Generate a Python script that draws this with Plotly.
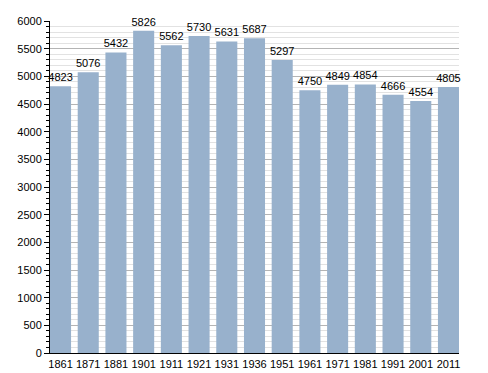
import plotly.graph_objects as go

years = ["1861", "1871", "1881", "1901", "1911", "1921", "1931", "1936",
         "1951", "1961", "1971", "1981", "1991", "2001", "2011"]
population = [4823, 5076, 5432, 5826, 5562, 5730, 5631, 5687,
              5297, 4750, 4849, 4854, 4666, 4554, 4805]
y_ticks = list(range(0, 6001, 500))

xpos = list(range(len(years)))

fig = go.Figure(go.Bar(
    x=xpos, y=population,
    text=[str(v) for v in population],
    textposition="outside",
    constraintext="none",
    textfont=dict(family="Liberation Sans, Arial, sans-serif", size=11, color="#000000"),
    marker=dict(color="#98b1cc", line=dict(width=0)),
    cliponaxis=False,
    width=0.76,
))

fig.update_layout(
    width=488, height=373,
    margin=dict(l=50, r=29, t=21, b=20, autoexpand=False),
    paper_bgcolor="white", plot_bgcolor="white",
    showlegend=False,
    font=dict(family="Liberation Sans, Arial, sans-serif", size=11, color="#000000"),
    xaxis=dict(
        tickmode="array", tickvals=xpos, ticktext=years,
        range=[-0.38, 14.38], automargin=False,
        showgrid=False, zeroline=False,
        showline=True, linecolor="#000000", linewidth=1,
        ticks="", ticklabelstandoff=1,
    ),
    yaxis=dict(
        range=[0, 6000], automargin=False,
        tickmode="array", tickvals=y_ticks,
        showgrid=True, gridcolor="#b4b4b4", gridwidth=1,
        zeroline=False,
        showline=True, linecolor="#000000", linewidth=1,
        ticks="outside", ticklen=5, tickcolor="#000000",
        minor=dict(dtick=100, tick0=0, ticks="outside", ticklen=3, tickcolor="#000000",
                   showgrid=True, gridcolor="#e2e2e2", gridwidth=1),
    ),
)

fig.write_html("out.html",
               config={"displayModeBar": False},
               post_script="document.body.style.margin='0';document.body.style.overflow='hidden';")
